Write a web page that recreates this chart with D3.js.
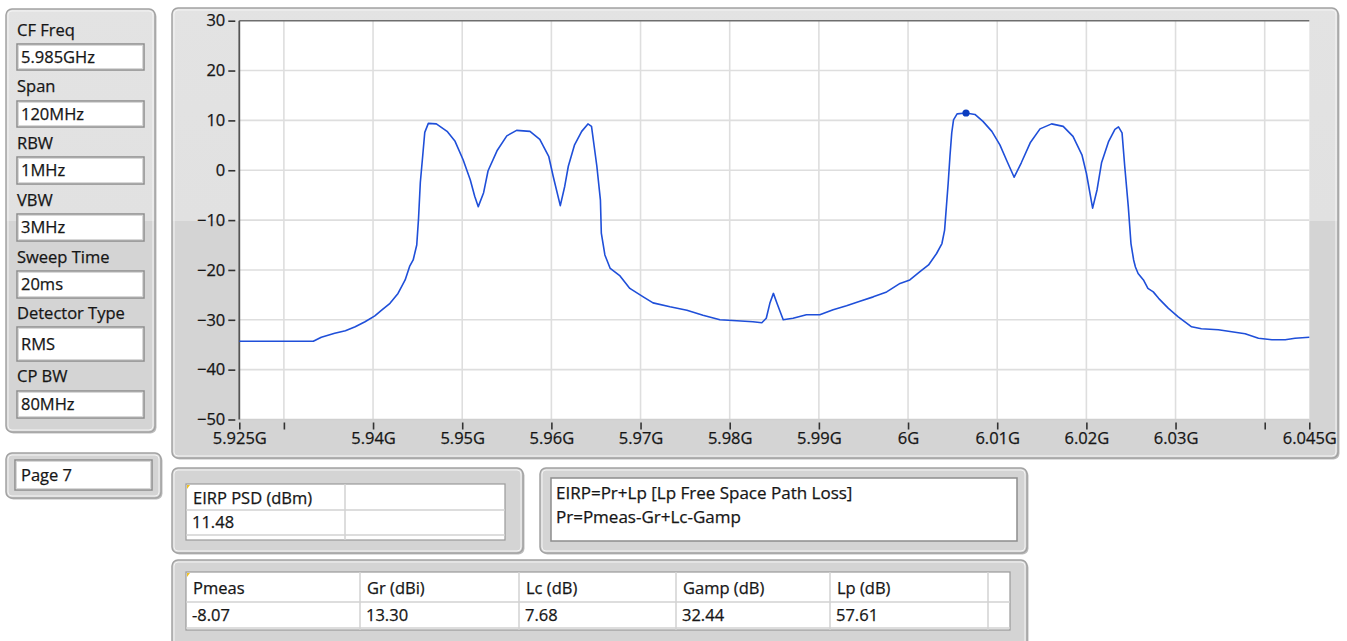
<!DOCTYPE html>
<html>
<head>
<meta charset="utf-8">
<script src="https://cdn.jsdelivr.net/npm/d3@7"></script>
<style>
  html, body { margin: 0; padding: 0; background: #ffffff; }
  svg text { font-family: "Open Sans", "Noto Sans", "DejaVu Sans", sans-serif; fill: #161616; stroke: #161616; stroke-width: 0.25px; }
</style>
</head>
<body>
<svg id="chart" width="1347" height="641"></svg>
<script>
// ---------------- DATA ----------------
const freqGHz = [
  5.9250, 5.9284, 5.9318, 5.9333, 5.9342, 5.9357, 5.9369, 5.9380, 5.9391, 5.9402,
  5.9410, 5.9419, 5.9428, 5.9436, 5.9441, 5.9445, 5.9449, 5.9451, 5.9453, 5.9456,
  5.9458, 5.9462, 5.9471, 5.9483, 5.9492, 5.9501, 5.9509, 5.9514, 5.9518, 5.9524,
  5.9529, 5.9539, 5.9550, 5.9561, 5.9576, 5.9587, 5.9597, 5.9602, 5.9610, 5.9615,
  5.9619, 5.9626, 5.9634, 5.9641, 5.9645, 5.9651, 5.9655, 5.9656, 5.9660, 5.9666,
  5.9677, 5.9688, 5.9703, 5.9714, 5.9733, 5.9752, 5.9770, 5.9789, 5.9808, 5.9826,
  5.9836, 5.9841, 5.9845, 5.9849, 5.9853, 5.9860, 5.9871, 5.9886, 5.9901, 5.9916,
  5.9931, 5.9946, 5.9961, 5.9976, 5.9991, 6.0002, 6.0013, 6.0023, 6.0032, 6.0038,
  6.0041, 6.0043, 6.0045, 6.0047, 6.0049, 6.0051, 6.0055, 6.0065, 6.0075, 6.0084,
  6.0094, 6.0103, 6.0111, 6.0119, 6.0127, 6.0137, 6.0148, 6.0161, 6.0174, 6.0185,
  6.0195, 6.0200, 6.0207, 6.0212, 6.0217, 6.0225, 6.0232, 6.0236, 6.0240, 6.0243,
  6.0247, 6.0250, 6.0253, 6.0255, 6.0258, 6.0264, 6.0269, 6.0275, 6.0281, 6.0292,
  6.0303, 6.0318, 6.0329, 6.0348, 6.0363, 6.0378, 6.0393, 6.0408, 6.0423, 6.0434,
  6.0450
];
const levelDbm = [
  -34.3, -34.3, -34.3, -34.3, -33.5, -32.7, -32.2, -31.4, -30.4, -29.2,
  -28.0, -26.7, -24.7, -22.0, -19.3, -18.0, -15.0, -9.7, -2.5, 3.5,
  7.6, 9.4, 9.3, 7.8, 5.8, 2.1, -1.9, -5.2, -7.3, -4.5,
  -0.1, 3.9, 6.9, 8.0, 7.8, 6.2, 2.8, -1.2, -7.1, -3.2,
  0.8, 5.1, 7.8, 9.3, 8.8, 0.8, -6.0, -12.6, -17.0, -19.7,
  -21.2, -23.7, -25.4, -26.6, -27.4, -28.1, -29.1, -30.0, -30.2, -30.4,
  -30.6, -29.7, -26.7, -24.7, -26.7, -30.0, -29.7, -29.0, -29.0, -28.0,
  -27.2, -26.3, -25.4, -24.4, -22.7, -22.0, -20.4, -19.0, -16.7, -14.7,
  -12.0, -7.3, -2.6, 2.8, 7.5, 10.1, 11.3, 11.48, 11.2, 9.8,
  7.8, 5.1, 1.8, -1.4, 1.5, 5.5, 8.3, 9.3, 8.8, 6.8,
  3.1, -0.6, -7.6, -3.9, 1.5, 5.8, 8.2, 8.7, 7.5, 0.8,
  -7.3, -14.7, -18.0, -19.4, -20.7, -22.0, -23.7, -24.4, -25.7, -27.7,
  -29.4, -31.4, -31.8, -32.0, -32.4, -32.8, -33.7, -34.0, -34.0, -33.7,
  -33.5
];
const markerFreq = 6.0065;
const markerLevel = 11.48;

const xDomain = [5.925, 6.045];
const yDomain = [-50, 30];
const xTickValues = [5.925, 5.93, 5.94, 5.95, 5.96, 5.97, 5.98, 5.99, 6.00, 6.01, 6.02, 6.03, 6.04, 6.045];
const xTickLabels = ["5.925G", "", "5.94G", "5.95G", "5.96G", "5.97G", "5.98G", "5.99G", "6G", "6.01G", "6.02G", "6.03G", "", "6.045G"];
const xGridValues = [5.93, 5.94, 5.95, 5.96, 5.97, 5.98, 5.99, 6.00, 6.01, 6.02, 6.03, 6.04];
const yTickValues = [-50, -40, -30, -20, -10, 0, 10, 20, 30];

const paramLabels = ["CF Freq", "Span", "RBW", "VBW", "Sweep Time", "Detector Type", "CP BW"];
const paramValues = ["5.985GHz", "120MHz", "1MHz", "3MHz", "20ms", "RMS", "80MHz"];
const pageLabel = "Page 7";

const eirpHeaders = ["EIRP PSD (dBm)", ""];
const eirpValues = ["11.48", ""];
const formulaLines = ["EIRP=Pr+Lp [Lp Free Space Path Loss]", "Pr=Pmeas-Gr+Lc-Gamp"];
const budgetHeaders = ["Pmeas", "Gr (dBi)", "Lc (dB)", "Gamp (dB)", "Lp (dB)", ""];
const budgetValues = ["-8.07", "13.30", "7.68", "32.44", "57.61", ""];

// ---------------- DRAW ----------------
const FS = 16.5;
const svg = d3.select("#chart");
const defs = svg.append("defs");
const grad = defs.append("linearGradient").attr("id", "panelFill")
  .attr("gradientUnits", "userSpaceOnUse").attr("x1", 0).attr("y1", 0).attr("x2", 0).attr("y2", 641);
grad.append("stop").attr("offset", 0).attr("stop-color", "#e3e3e3");
grad.append("stop").attr("offset", 221 / 641).attr("stop-color", "#e1e1e1");
grad.append("stop").attr("offset", 221 / 641).attr("stop-color", "#d4d4d4");
grad.append("stop").attr("offset", 1).attr("stop-color", "#d4d4d4");

function panel(x, y, w, h) {
  svg.append("rect").attr("x", x + 1.5).attr("y", y + 1.5).attr("width", w).attr("height", h)
    .attr("rx", 6).attr("fill", "#bdbdbd");
  svg.append("rect").attr("x", x).attr("y", y).attr("width", w).attr("height", h)
    .attr("rx", 6).attr("fill", "url(#panelFill)").attr("stroke", "#a2a2a2").attr("stroke-width", 1.5);
  svg.append("rect").attr("x", x + 2).attr("y", y + 2).attr("width", w - 4).attr("height", h - 4)
    .attr("rx", 4).attr("fill", "none").attr("stroke", "#f4f4f4").attr("stroke-width", 1);
}
function field(x, y, w, h) {
  svg.append("rect").attr("x", x).attr("y", y).attr("width", w).attr("height", h)
    .attr("fill", "#ffffff").attr("stroke", "#8d8d8d").attr("stroke-width", 1.5);
  svg.append("rect").attr("x", x + 1.5).attr("y", y + 1.5).attr("width", w - 3).attr("height", h - 3)
    .attr("fill", "none").attr("stroke", "#d8d8d8").attr("stroke-width", 1);
}

// Left parameter panel
panel(6, 9, 149, 423);
const labelY = [30, 86, 143, 200, 257, 313, 376];
const fieldY = [44, 101, 157, 214, 271, 327, 391];
const fieldH = [26, 26, 27, 27, 27, 34, 27];
paramLabels.forEach((lab, i) => {
  svg.append("text").attr("x", 17).attr("y", labelY[i]).attr("dy", "0.35em")
    .attr("font-size", FS).text(lab);
  field(17, fieldY[i], 127, fieldH[i]);
  svg.append("text").attr("x", 21).attr("y", fieldY[i] + fieldH[i] / 2).attr("dy", "0.35em")
    .attr("font-size", FS).text(paramValues[i]);
});

// Page panel
panel(6, 453, 155, 45);
field(15, 460, 137, 30);
svg.append("text").attr("x", 21).attr("y", 475).attr("dy", "0.35em").attr("font-size", FS).text(pageLabel);

// Chart panel
panel(172, 8, 1166, 450);

const x = d3.scaleLinear().domain(xDomain).range([239.3, 1309.3]);
const y = d3.scaleLinear().domain(yDomain).range([419.5, 20.7]);

svg.append("rect").attr("x", x(xDomain[0])).attr("y", y(yDomain[1]))
  .attr("width", x(xDomain[1]) - x(xDomain[0])).attr("height", y(yDomain[0]) - y(yDomain[1]))
  .attr("fill", "#ffffff");

// grid
svg.append("g").selectAll("line").data(xGridValues).join("line")
  .attr("x1", d => x(d)).attr("x2", d => x(d)).attr("y1", y(yDomain[1])).attr("y2", y(yDomain[0]))
  .attr("stroke", "#dedede").attr("stroke-width", 1.6);
svg.append("g").selectAll("line").data(yTickValues.filter(v => v > yDomain[0] && v < yDomain[1])).join("line")
  .attr("x1", x(xDomain[0])).attr("x2", x(xDomain[1])).attr("y1", d => y(d)).attr("y2", d => y(d))
  .attr("stroke", "#dedede").attr("stroke-width", 1.6);
svg.append("line").attr("x1", x(xDomain[0])).attr("x2", x(xDomain[1]))
  .attr("y1", y(yDomain[0])).attr("y2", y(yDomain[0])).attr("stroke", "#cfcfcf").attr("stroke-width", 1.5);
svg.append("line").attr("x1", x(xDomain[0])).attr("x2", x(xDomain[1]))
  .attr("y1", y(yDomain[1])).attr("y2", y(yDomain[1])).attr("stroke", "#6e6e6e").attr("stroke-width", 1.6);
svg.append("line").attr("x1", x(xDomain[0])).attr("x2", x(xDomain[0]))
  .attr("y1", y(yDomain[1])).attr("y2", y(yDomain[0])).attr("stroke", "#555555").attr("stroke-width", 1.8);

// y axis
const yAxis = d3.axisLeft(y).tickValues(yTickValues).tickSize(7).tickPadding(3).tickFormat(d3.format("d"));
const gy = svg.append("g").attr("transform", `translate(${x(xDomain[0]) - 4},0)`).call(yAxis);
gy.select(".domain").remove();
gy.selectAll(".tick line").attr("stroke", "#333").attr("stroke-width", 1.6);
gy.selectAll(".tick text").attr("font-size", FS).attr("fill", "#161616")
  .style("font-family", '"Open Sans", "Noto Sans", sans-serif');

// x axis
const xAxis = d3.axisBottom(x).tickValues(xTickValues).tickSize(7).tickPadding(3)
  .tickFormat((d, i) => xTickLabels[i]);
const gx = svg.append("g").attr("transform", `translate(0,${y(yDomain[0]) + 3})`).call(xAxis);
gx.select(".domain").remove();
gx.selectAll(".tick line").attr("stroke", "#333").attr("stroke-width", 1.6);
gx.selectAll(".tick text").attr("font-size", FS).attr("fill", "#161616")
  .style("font-family", '"Open Sans", "Noto Sans", sans-serif');

// trace
const traceData = freqGHz.map((f, i) => [f, levelDbm[i]]);
const line = d3.line().x(d => x(d[0])).y(d => y(d[1]));
svg.append("path").datum(traceData).attr("d", line)
  .attr("fill", "none").attr("stroke", "#1f4fd9").attr("stroke-width", 1.6)
  .attr("stroke-linejoin", "round");
svg.append("circle").attr("cx", x(markerFreq)).attr("cy", y(markerLevel)).attr("r", 3.6)
  .attr("fill", "#0b3cbf");

// EIRP table panel
panel(172, 468, 351, 85);
function table(x0, y0, colX, headerH, rowH, totalH, headers, values, fontSize) {
  const w = colX[colX.length - 1] - x0;
  svg.append("rect").attr("x", x0).attr("y", y0).attr("width", w).attr("height", totalH)
    .attr("fill", "#ffffff").attr("stroke", "#9a9a9a").attr("stroke-width", 1.2);
  svg.append("line").attr("x1", x0).attr("x2", x0 + w).attr("y1", y0 + headerH).attr("y2", y0 + headerH)
    .attr("stroke", "#d2d2d2").attr("stroke-width", 1.5);
  svg.append("line").attr("x1", x0).attr("x2", x0 + w).attr("y1", y0 + headerH + rowH).attr("y2", y0 + headerH + rowH)
    .attr("stroke", "#d2d2d2").attr("stroke-width", 1.5);
  colX.slice(0, -1).forEach((cx, i) => {
    if (i > 0) svg.append("line").attr("x1", cx).attr("x2", cx).attr("y1", y0).attr("y2", y0 + totalH)
      .attr("stroke", "#d2d2d2").attr("stroke-width", 1.5);
  });
  headers.forEach((h, i) => {
    svg.append("text").attr("x", colX[i] + 7).attr("y", y0 + headerH / 2 + 1).attr("dy", "0.35em")
      .attr("font-size", fontSize).text(h);
    svg.append("text").attr("x", colX[i] + 6).attr("y", y0 + headerH + rowH / 2).attr("dy", "0.35em")
      .attr("font-size", fontSize).text(values[i]);
  });
  svg.append("path").attr("d", `M${x0 + 1},${y0 + 1}L${x0 + 4},${y0 + 1}L${x0 + 1},${y0 + 5}Z`).attr("fill", "#f0c020");
}
table(186, 484, [186, 345, 505], 26, 25, 56, eirpHeaders, eirpValues, FS);

// formula panel
panel(540, 468, 487, 85);
svg.append("rect").attr("x", 551).attr("y", 478).attr("width", 466).attr("height", 63)
  .attr("fill", "#ffffff").attr("stroke", "#8d8d8d").attr("stroke-width", 1.5);
formulaLines.forEach((t, i) => {
  svg.append("text").attr("x", 556).attr("y", 493 + i * 24).attr("dy", "0.35em")
    .attr("font-size", 17).text(t);
});

// budget table panel
panel(172, 560, 855, 90);
table(186, 572, [186, 360, 519, 676, 830, 988, 1010], 30, 26, 58, budgetHeaders, budgetValues, FS);
</script>
</body>
</html>
